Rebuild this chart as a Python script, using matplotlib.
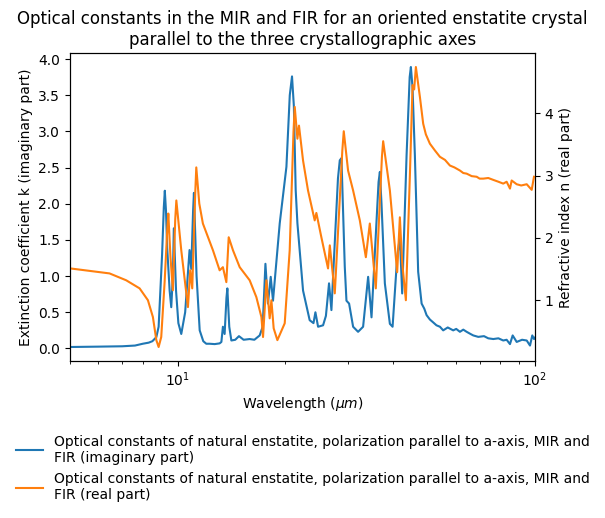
import numpy as np
import matplotlib.pyplot as plt

# Extinction coefficient k (imaginary part)
wl_k = [5.0, 6.0, 7.0, 7.6, 7.99, 8.3, 8.5, 8.72, 8.85, 8.95, 9.05, 9.15, 9.21, 9.28, 9.35,
        9.5, 9.6, 9.7, 9.76, 9.9, 10.05, 10.24, 10.5, 10.8, 10.92, 11.05, 11.11, 11.3,
        11.53, 11.8, 12.03, 12.29, 12.7, 13.11, 13.26, 13.39, 13.54, 13.7, 13.78, 13.95,
        14.14, 14.5, 14.85, 15.3, 15.91, 16.4, 16.97, 17.3, 17.61, 17.9, 18.22, 18.49,
        19.31, 20.16, 20.6, 20.9, 21.15, 21.4, 21.64, 22.44, 23.42, 24.0, 24.3, 24.72,
        25.53, 26.0, 26.53, 26.94, 28.1, 28.43, 28.74, 29.36, 29.68, 30.19, 30.98,
        31.99, 33.04, 34.13, 34.88, 36.5, 36.81, 37.2, 38.01, 39.26, 39.95, 41.15,
        41.87, 42.5, 43.72, 44.6, 44.95, 45.44, 46.12, 47.11, 48.17, 49.0, 49.74, 50.8,
        51.9, 53.0, 54.2, 55.35, 57.0, 59.04, 60.2, 61.65, 63.0, 64.38, 66.0, 67.18,
        69.38, 72.0, 74.0, 76.42, 79.0, 81.5, 83.3, 85.11, 86.6, 88.87, 92.0, 94.8,
        96.83, 98.26, 99.4, 100.0]
k_vals = [0.02, 0.025, 0.03, 0.04, 0.065, 0.08, 0.1, 0.156, 0.3, 0.8, 1.3, 1.95, 2.18, 1.9,
          1.4, 0.8, 0.57, 1.0, 1.66, 0.8, 0.35, 0.2, 0.5, 1.36, 1.1, 1.9, 2.15, 1.0,
          0.25, 0.1, 0.065, 0.065, 0.06, 0.07, 0.09, 0.3, 0.2, 0.7, 0.83, 0.3,
          0.11, 0.12, 0.17, 0.12, 0.13, 0.12, 0.18, 0.3, 1.17, 0.62, 0.99, 0.66,
          1.73, 2.51, 3.5, 3.76, 3.35, 2.19, 1.73, 0.8, 0.39, 0.35, 0.5, 0.3,
          0.32, 0.45, 0.9, 0.53, 2.35, 2.6, 2.63, 1.13, 0.66, 0.62, 0.3,
          0.23, 0.3, 0.99, 0.43, 2.3, 2.44, 2.0, 0.9, 0.34, 0.3, 1.26,
          1.54, 0.76, 2.67, 3.75, 3.89, 3.6, 2.67, 1.06, 0.62, 0.55, 0.46, 0.4,
          0.36, 0.32, 0.3, 0.25, 0.29, 0.25, 0.27, 0.23, 0.26, 0.23, 0.2, 0.18,
          0.16, 0.17, 0.14, 0.13, 0.14, 0.11, 0.12, 0.06, 0.18, 0.09, 0.12, 0.11,
          0.04, 0.18, 0.13, 0.15]

# Refractive index n (real part)
wl_n = [5.01, 6.45, 7.18, 7.83, 8.26, 8.53, 8.72, 8.85, 9.0, 9.2, 9.35, 9.42, 9.55, 9.7,
        9.85, 9.92, 10.24, 10.69, 10.85, 10.99, 11.2, 11.28, 11.5, 11.77, 12.56, 13.11,
        13.39, 13.69, 13.9, 14.29, 14.92, 15.91, 16.61, 17.16, 17.34, 17.72, 18.1,
        18.3, 18.57, 19.02, 19.94, 20.59, 21.1, 21.27, 21.64, 21.86, 22.44, 23.17,
        24.19, 24.45, 25.25, 26.36, 26.66, 27.53, 28.9, 29.17, 29.99, 30.98, 32.35,
        33.63, 34.5, 35.86, 37.3, 37.6, 39.26, 41.15, 41.87, 42.5, 43.52, 44.66,
        45.44, 45.91, 46.42, 47.64, 48.66, 49.5, 50.81, 52.5, 54.19, 56.0, 57.8,
        59.5, 61.65, 63.0, 64.38, 66.5, 68.67, 70.0, 71.66, 74.0, 76.42, 79.0,
        81.5, 83.3, 85.11, 86.04, 88.87, 91.5, 94.8, 97.9, 99.35]
n_vals = [1.51, 1.43, 1.32, 1.19, 1.0, 0.73, 0.36, 0.25, 0.41, 1.3, 2.1, 2.39, 1.7, 1.16,
          2.3, 2.6, 1.8, 0.89, 1.48, 1.19, 2.7, 3.13, 2.55, 2.23, 1.8, 1.48,
          1.53, 1.29, 2.01, 1.8, 1.53, 1.32, 1.05, 0.73, 0.41, 1.32, 0.71,
          1.0, 0.55, 0.36, 0.63, 1.8, 3.7, 4.1, 3.59, 3.8, 3.24, 2.76,
          2.28, 2.4, 2.01, 1.51, 1.88, 1.11, 3.4, 3.71, 3.08, 2.76, 2.28,
          1.69, 2.23, 1.19, 3.3, 3.55, 2.76, 1.45, 2.33, 1.6, 1.0, 3.0,
          4.45, 4.38, 4.74, 4.26, 3.83, 3.66, 3.51, 3.4, 3.3, 3.25, 3.16,
          3.13, 3.08, 3.04, 3.03, 2.99, 2.98, 2.95, 2.95, 2.96, 2.93, 2.9,
          2.87, 2.9, 2.79, 2.92, 2.86, 2.84, 2.86, 2.77, 2.98]

label_k = ("Optical constants of natural enstatite, polarization parallel to a-axis, MIR and\n"
           "FIR (imaginary part)")
label_n = ("Optical constants of natural enstatite, polarization parallel to a-axis, MIR and\n"
           "FIR (real part)")

fig = plt.figure(figsize=(6.05, 5.18), dpi=100)
ax = fig.add_axes([70 / 605, 1 - 361 / 518, 465 / 605, 308 / 518])
ax2 = ax.twinx()

line_k, = ax.plot(wl_k, k_vals, color="C0", label=label_k)
line_n, = ax2.plot(wl_n, n_vals, color="C1", label=label_n)

ax.set_xscale("log")
ax.set_xlim(5, 100)
ax.set_xlabel(r"Wavelength ($\mu m$)")
ax.set_ylabel("Extinction coefficient k (imaginary part)")
ax2.set_ylabel("Refractive index n (real part)")
ax.set_title("Optical constants in the MIR and FIR for an oriented enstatite crystal\n"
             "parallel to the three crystallographic axes")

fig.legend(handles=[line_k, line_n], loc="upper left", bbox_to_anchor=(0.005, 0.185),
           frameon=False)

fig.savefig("out.png", dpi=100)
